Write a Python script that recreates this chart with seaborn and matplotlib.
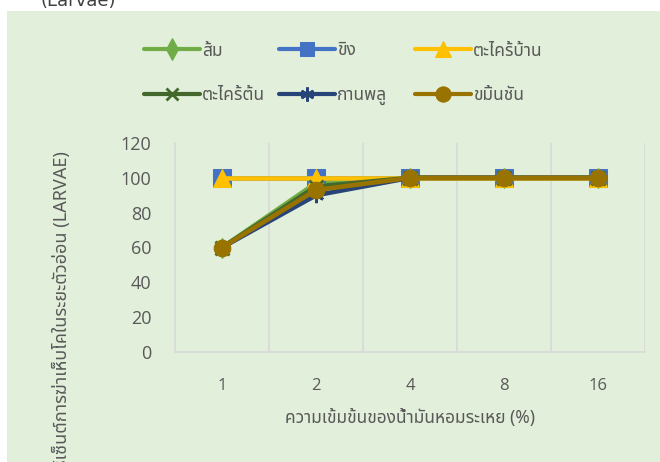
import matplotlib
matplotlib.use("Agg")
import matplotlib.pyplot as plt
from matplotlib import font_manager
from matplotlib.ft2font import FT2Font
import seaborn as sns
import pandas as pd

# concentrations (%) and kill rate of larvae (%) for each essential oil
concentrations = ["1", "2", "4", "8", "16"]
series_names = ["ส้ม", "ขิง", "ตะไคร้บ้าน", "ตะไคร้ต้น", "กานพลู", "ขมิ้นชัน"]
som = [60, 97, 100, 100, 100]
khing = [100, 100, 100, 100, 100]
takhrai_ban = [100, 100, 100, 100, 100]
takhrai_ton = [60, 95, 100, 100, 100]
kanphlu = [60, 90, 100, 100, 100]
khamin_chan = [60, 93, 100, 100, 100]
y_ticks = [0, 20, 40, 60, 80, 100, 120]

x_title = "ความเข้มข้นของน้ำมันหอมระเหย (%)"
y_title = "เปอร์เซ็นต์การฆ่าเห็บโคในระยะตัวอ่อน (LARVAE)"
top_text = "(Larvae)"


def thai_font():
    preferred = ["Noto Sans Thai", "Noto Sans Thai UI", "Loma", "Garuda", "Norasi",
                 "Kinnari", "Tlwg Typo", "Sawasdee", "Umpush", "Waree",
                 "Noto Serif Thai", "Noto Sans"]
    found = {}
    for f in font_manager.fontManager.ttflist:
        try:
            cmap = FT2Font(f.fname).get_charmap()
        except Exception:
            continue
        if 0x0E01 in cmap and 0x0E49 in cmap:
            found.setdefault(f.name, f.fname)
    for name in preferred:
        if name in found:
            return name
    return sorted(found)[0] if found else "DejaVu Sans"


sns.set_theme(style="white")
THAI = thai_font()
plt.rcParams["font.family"] = [THAI, "DejaVu Sans"]

df = pd.DataFrame({
    "conc": concentrations * 6,
    "pos": list(range(len(concentrations))) * 6,
    "kill": som + khing + takhrai_ban + takhrai_ton + kanphlu + khamin_chan,
    "oil": [n for n in series_names for _ in concentrations],
})

# marker shape, size on the chart, size in the legend
styles = {
    "ส้ม": dict(color="#70AD47", marker="d", ms=10, lms=11),
    "ขิง": dict(color="#4472C4", marker="s", ms=13, lms=10),
    "ตะไคร้บ้าน": dict(color="#FFC000", marker="^", ms=12.5, lms=11),
    "ตะไคร้ต้น": dict(color="#43682B", marker="x", ms=10, lms=9),
    "กานพลู": dict(color="#264478", marker=(6, 2, 0), ms=11, lms=10),
    "ขมิ้นชัน": dict(color="#997300", marker="o", ms=12, lms=11),
}

BG = "#E2EFDA"
GRID = "#D9D9D9"
TXT = "#595959"

fig = plt.figure(figsize=(6.6, 4.62), dpi=100, facecolor="white")
# green chart area below a thin white strip
fig.patches.append(plt.Rectangle((7 / 660, 0), 1, 1 - 11 / 462,
                                 transform=fig.transFigure, facecolor=BG,
                                 edgecolor="none", zorder=-10))
fig.text(40 / 660, 1 - 6 / 462, top_text, fontsize=13, color="#404040",
         va="baseline", ha="left", family=["DejaVu Sans"])

ax = fig.add_axes([175 / 660, 1 - 352 / 462, 470 / 660, 209 / 462])
ax.set_facecolor(BG)

for name in series_names:
    st = styles[name]
    sub = df[df["oil"] == name]
    mkw = dict(markeredgecolor=st["color"], markerfacecolor=st["color"])
    if st["marker"] == "x" or isinstance(st["marker"], tuple):
        mkw["markeredgewidth"] = 2.0
    sns.lineplot(data=sub, x="pos", y="kill", ax=ax, color=st["color"],
                 linewidth=3.3, marker=st["marker"], markersize=st["ms"],
                 label=name, legend=False, **mkw)

ax.set_xlim(-0.5, len(concentrations) - 0.5)
ax.set_ylim(0, 120)
ax.set_yticks(y_ticks)
ax.set_yticklabels([str(v) for v in y_ticks], family=["Open Sans"])
ax.set_xticks(range(len(concentrations)))
ax.set_xticklabels(concentrations, family=["Open Sans"])
ax.tick_params(axis="y", length=0, pad=17, labelsize=13, labelcolor=TXT)
ax.tick_params(axis="x", length=0, pad=19, labelsize=12, labelcolor=TXT)

# vertical separators between categories
for b in [i + 0.5 for i in range(len(concentrations))]:
    ax.axvline(b, color=GRID, linewidth=1.2, zorder=0)
for side in ["top", "right"]:
    ax.spines[side].set_visible(False)
for side in ["left", "bottom"]:
    ax.spines[side].set_color(GRID)
    ax.spines[side].set_linewidth(1.2)
ax.set_xlabel("")
ax.set_ylabel("")

fig.text(410 / 660, 1 - 418 / 462, x_title, fontsize=12.5, color=TXT,
         ha="center", va="center")
fig.text(62 / 660, 1 - 151 / 462, y_title, fontsize=13, color=TXT,
         rotation=90, ha="center", va="top")

# legend: three equal-width columns of two entries each
handles, labels = ax.get_legend_handles_labels()
col_x = [144, 279, 415]
for c in range(3):
    idx = [c, c + 3]
    leg = fig.legend([handles[i] for i in idx], [labels[i] for i in idx],
                     ncol=1, loc="center left",
                     bbox_to_anchor=(col_x[c] / 660, 1 - 73 / 462),
                     frameon=False, fontsize=12.5, labelcolor=TXT,
                     handlelength=3.2, handletextpad=0.15, labelspacing=1.55,
                     borderpad=0, borderaxespad=0)
    for line, i in zip(leg.get_lines(), idx):
        line.set_markersize(styles[labels[i]]["lms"])
        line.set_linewidth(3.0)

fig.savefig("out.png", dpi=100, facecolor="white")
